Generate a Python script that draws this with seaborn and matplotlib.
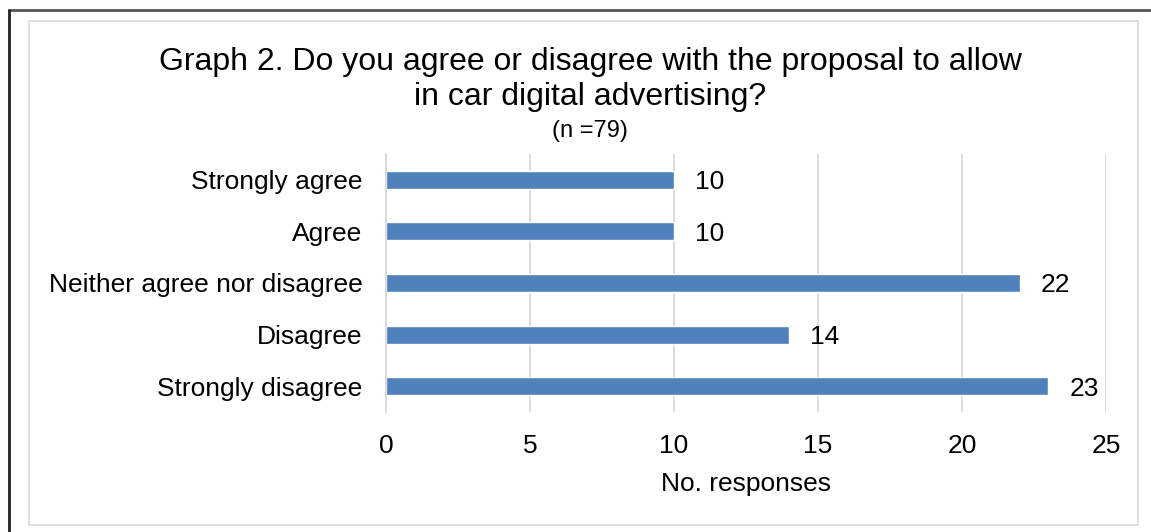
import matplotlib
matplotlib.use("Agg")
import matplotlib.pyplot as plt
import seaborn as sns
import pandas as pd
from matplotlib.lines import Line2D
from matplotlib.patches import Rectangle

categories = ["Strongly agree", "Agree", "Neither agree nor disagree", "Disagree", "Strongly disagree"]
values = [10, 10, 22, 14, 23]
xticks = [0, 5, 10, 15, 20, 25]

sns.set_theme(style="white")
plt.rcParams['font.family'] = ['Liberation Sans', 'DejaVu Sans']

W, H = 1151, 532
FS = 19
fig = plt.figure(figsize=(W / 100, H / 100), dpi=100)
ax = fig.add_axes([386 / W, 1 - 412 / H, (1106 - 386) / W, (412 - 154) / H])

df = pd.DataFrame({"cat": categories, "val": values})
sns.barplot(data=df, x="val", y="cat", ax=ax, color="#4F81BD", width=0.35,
            saturation=1, orient="h")

ax.set_xlim(0, 25)
ax.set_xticks(xticks)
ax.set_xticklabels([str(t) for t in xticks], fontsize=FS, color="#000000")
ax.tick_params(axis="y", labelsize=FS, labelcolor="#000000", length=0, pad=17)
ax.tick_params(axis="x", length=0, pad=16)
ax.grid(axis="x", color="#D9D9D9", linewidth=1.3)
ax.set_axisbelow(True)
for s in ["top", "right", "bottom"]:
    ax.spines[s].set_visible(False)
ax.spines["left"].set_color("#D9D9D9")
ax.spines["left"].set_linewidth(1.3)
ax.set_ylabel("")
ax.set_xlabel("No. responses", fontsize=FS, color="#000000", labelpad=10)

for i, v in enumerate(values):
    ax.text(v + 0.72, i, str(v), va="center_baseline", ha="left", fontsize=FS, color="#000000")

fig.text(590 / W, 1 - 62 / H, "Graph 2. Do you agree or disagree with the proposal to allow",
         ha="center", va="center", fontsize=23, color="#000000")
fig.text(590 / W, 1 - 97 / H, "in car digital advertising?",
         ha="center", va="center", fontsize=23, color="#000000")
fig.text(590 / W, 1 - 131 / H, "(n =79)", ha="center", va="center", fontsize=17, color="#000000")

# inner chart border
fig.add_artist(Rectangle((29 / W, 1 - 525 / H), (1138 - 29) / W, (525 - 21) / H,
                         transform=fig.transFigure, fill=False, edgecolor="#D9D9D9", linewidth=1.2))
# outer frame lines
fig.add_artist(Line2D([9 / W, 1], [1 - 10 / H, 1 - 10 / H], transform=fig.transFigure,
                      color="#555555", linewidth=2))
fig.add_artist(Line2D([9 / W, 9 / W], [1 - 10 / H, 0], transform=fig.transFigure,
                      color="#222222", linewidth=2))

fig.savefig("out.png", dpi=100)
